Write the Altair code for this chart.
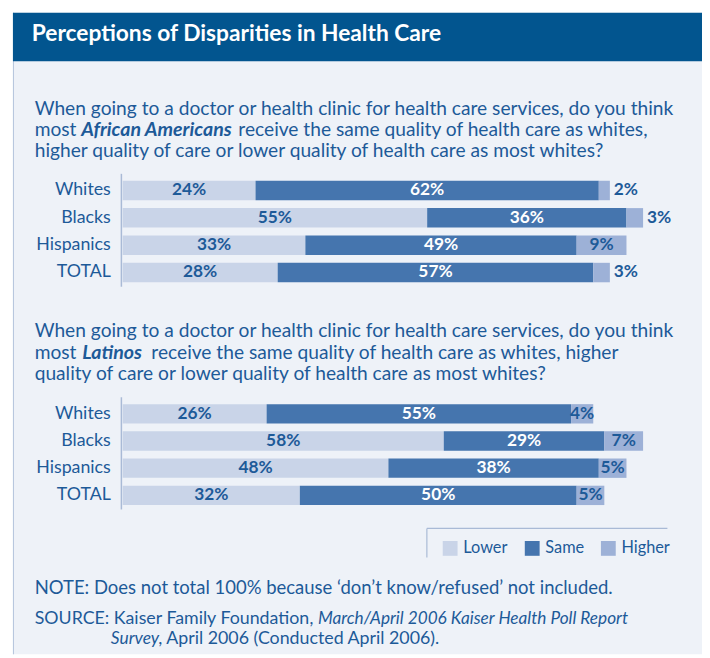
import altair as alt
import pandas as pd

# ---------------- data ----------------
GROUPS = ["Whites", "Blacks", "Hispanics", "TOTAL"]
RESPONSES = ["Lower", "Same", "Higher"]

AA_LOWER = [24, 55, 33, 28]
AA_SAME = [62, 36, 49, 57]
AA_HIGHER = [2, 3, 9, 3]

LAT_LOWER = [26, 58, 48, 32]
LAT_SAME = [55, 29, 38, 50]
LAT_HIGHER = [4, 7, 5, 5]

TITLE = "Perceptions of Disparities in Health Care"
Q_LINE1 = "When going to a doctor or health clinic for health care services, do you think"
Q1_LINE2 = ["most ", "African Americans", "receive the same quality of health care as whites,"]
Q1_LINE3 = "higher quality of care or lower quality of health care as most whites?"
Q2_LINE2 = ["most ", "Latinos", "receive the same quality of health care as whites, higher"]
Q2_LINE3 = "quality of care or lower quality of health care as most whites?"
NOTE = "NOTE:  Does not total 100% because \u2018don\u2019t know/refused\u2019 not included."
SOURCE_1 = "SOURCE:  Kaiser Family Foundation"
SOURCE_2 = ", March/April 2006 Kaiser Health Poll Report"
SOURCE_3 = "Survey"
SOURCE_4 = ", April 2006 (Conducted April 2006)."

# ---------------- styles ----------------
FONT = "Lato"
TXT = "#1D5A98"
BG = "#EEF2F8"
HEADER = "#02558F"
FRAME = "#B3C3DC"
AXIS_C = "#A9BAD6"
COLORS = ["#C9D4E8", "#4575AE", "#9DB1D7"]
QSIZE = 19.4
BSIZE = 19.8
NSIZE = 18.0

W, H = 702, 650
ONE = pd.DataFrame({"k": [0]})

XSCALE = alt.Scale(domain=[0, 100], range=[116, 676], nice=False, zero=False)
COLOR = alt.Color(
    "response:N",
    scale=alt.Scale(domain=RESPONSES, range=COLORS),
    legend=alt.Legend(
        orient="none", legendX=439, legendY=534.5, direction="horizontal",
        title=None, symbolType="square", symbolSize=225, symbolStrokeWidth=0,
        symbolOpacity=1, labelFont=FONT, labelFontSize=16.5, labelColor=TXT,
        labelOffset=5, columnPadding=16, padding=0,
    ),
)


def build_df(lower, same, higher):
    rows = []
    for g, lo, sa, hi in zip(GROUPS, lower, same, higher):
        start = 0
        for r, v in zip(RESPONSES, (lo, sa, hi)):
            rows.append(dict(group=g, response=r, value=v, start=start,
                             end=start + v, mid=start + v / 2, label=f"{v}%"))
            start += v
    return pd.DataFrame(rows)


def panel(df, yrange):
    ysc = alt.Scale(domain=GROUPS, range=yrange, paddingInner=0.288, paddingOuter=0.253)
    y = alt.Y("group:N", sort=GROUPS, scale=ysc, axis=None)
    bars = alt.Chart(df).mark_bar().encode(
        y=y, x=alt.X("start:Q", scale=XSCALE, axis=None), x2="end:Q", color=COLOR
    )
    small = (df["response"] == "Higher") & (df["value"] < 4)
    dark_in = df[(df["response"] != "Same") & ~small]
    white_in = df[df["response"] == "Same"]
    dark_out = df[small]
    cats = df[df["response"] == "Lower"]
    tprops = dict(font=FONT, fontSize=17.5, fontWeight="bold", baseline="middle")
    t1 = alt.Chart(dark_in).mark_text(color=TXT, align="center", **tprops).encode(
        y=y, x=alt.X("mid:Q", scale=XSCALE), text="label:N")
    t2 = alt.Chart(white_in).mark_text(color="white", align="center", **tprops).encode(
        y=y, x=alt.X("mid:Q", scale=XSCALE), text="label:N")
    t3 = alt.Chart(dark_out).mark_text(color=TXT, align="left", dx=4, **tprops).encode(
        y=y, x=alt.X("end:Q", scale=XSCALE), text="label:N")
    lab = alt.Chart(cats).mark_text(color=TXT, align="right", baseline="middle",
                                    font=FONT, fontSize=18).encode(
        y=y, x=alt.value(104), text="group:N")
    axis_line = alt.Chart(ONE).mark_rule(color=AXIS_C, strokeWidth=1.5).encode(
        x=alt.value(114.7), y=alt.value(yrange[0]), y2=alt.value(yrange[1] - 2.5))
    return alt.layer(axis_line, bars, t1, t2, t3, lab)


def txt(s, x, y, size=QSIZE, weight="normal", style="normal", color=TXT, align="left"):
    return alt.Chart(ONE).mark_text(
        text=s, font=FONT, fontSize=size, fontWeight=weight, fontStyle=style,
        color=color, align=align, baseline="alphabetic",
    ).encode(x=alt.value(x), y=alt.value(y))


def rect(x, x2, y, y2, fill):
    return alt.Chart(ONE).mark_rect(fill=fill).encode(
        x=alt.value(x), x2=alt.value(x2), y=alt.value(y), y2=alt.value(y2))


def rule(x, x2, y, y2, color, w=1.5):
    return alt.Chart(ONE).mark_rule(color=color, strokeWidth=w).encode(
        x=alt.value(x), x2=alt.value(x2), y=alt.value(y), y2=alt.value(y2))


dfA = build_df(AA_LOWER, AA_SAME, AA_HIGHER)
dfB = build_df(LAT_LOWER, LAT_SAME, LAT_HIGHER)

layers = [
    rect(5, W, 1, H, BG),
    rule(5.5, 5.5, 1, H, FRAME, 1),
    rect(5, W, 1, 50, HEADER),
    txt(TITLE, 24, 29.5, size=23, weight="bold", color="white"),
    # question 1
    txt(Q_LINE1, 27, 104),
    txt(Q1_LINE2[0], 27, 125.7),
    txt(Q1_LINE2[1], 74, 125.7, size=BSIZE, weight="bold", style="italic"),
    txt(Q1_LINE2[2], 233, 125.7),
    txt(Q1_LINE3, 27, 147.4),
    # question 2
    txt(Q_LINE1, 27, 329.5),
    txt(Q2_LINE2[0], 27, 351.2),
    txt(Q2_LINE2[1], 75, 351.2, size=BSIZE, weight="bold", style="italic"),
    txt(Q2_LINE2[2], 145, 351.2),
    txt(Q2_LINE3, 27, 372.9),
    # legend frame
    rule(423.7, 667, 522.7, 522.7, AXIS_C, 1.2),
    rule(423.7, 423.7, 522.7, 552, AXIS_C, 1.2),
    # notes
    txt(NOTE, 27, 589.5, size=18.7),
    txt(SOURCE_1, 27, 619, size=NSIZE),
    txt(SOURCE_2, 305.5, 619, size=17.4, style="italic"),
    txt(SOURCE_3, 104, 640, size=17.6, style="italic"),
    txt(SOURCE_4, 152, 640, size=NSIZE),
    panel(dfA, [164, 280.7]),
    panel(dfB, [390, 506]),
]

chart = (
    alt.layer(*layers)
    .resolve_scale(y="independent")
    .properties(width=W, height=H, autosize=alt.AutoSizeParams(type="none"), padding=0,
                background="white")
    .configure_view(stroke=None)
)

chart.save("out.html", embed_options={"renderer": "svg", "actions": False})
